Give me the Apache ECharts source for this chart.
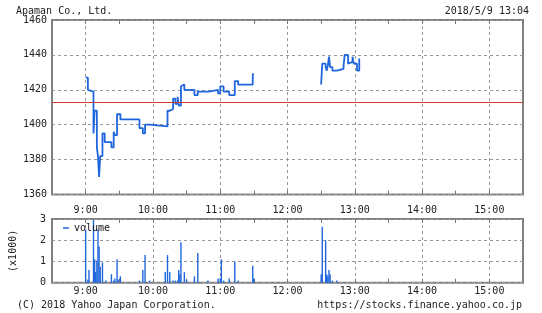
<!DOCTYPE html>
<html><head><meta charset="utf-8">
<script src="https://cdn.jsdelivr.net/npm/echarts@6/dist/echarts.min.js"></script>
<style>html,body{margin:0;padding:0;background:#fff}#c{width:542px;height:313px}</style>
</head><body><div id="c"></div>
<script>
// ---- data ----
const titleText = 'Apaman Co., Ltd.';
const dateText = '2018/5/9 13:04';
const prevClose = 1413;
const amTimes = ['9:00','9:02','9:03','9:07','9:08','9:10','9:11','9:12','9:13','9:15','9:17','9:23','9:25','9:26','9:28','9:31','9:48','9:51','9:53','9:57','10:13','10:15','10:18','10:20','10:22','10:23','10:25','10:26','10:28','10:37','10:40','10:50','10:58','11:00','11:03','11:08','11:13','11:16','11:29','11:30'];
const amPrices = [1427,1420,1419,1395,1408,1387,1382,1370,1382,1395,1390,1387,1396,1394,1406,1403,1398,1395,1400,1399,1408,1409,1415,1412,1416,1411,1422,1423,1420,1417,1419,1420,1418,1422,1419,1417,1425,1423,1429,1429];
const pmTimes = ['12:30','12:31','12:34','12:35','12:36','12:37','12:38','12:40','12:44','12:50','12:51','12:54','12:55','12:58','12:59','13:02','13:04'];
const pmPrices = [1423,1435,1433,1431,1434,1439,1433,1431,1432,1434,1440,1435,1436,1439,1435,1431,1438];
const volTimes = ['9:00','9:02','9:03','9:07','9:08','9:09','9:10','9:11','9:12','9:13','9:15','9:18','9:23','9:25','9:26','9:28','9:29','9:31','9:48','9:51','9:53','9:57','10:11','10:13','10:15','10:18','10:20','10:22','10:23','10:24','10:25','10:28','10:30','10:37','10:40','10:49','10:58','11:00','11:01','11:03','11:08','11:13','11:16','11:29','11:30','12:30','12:31','12:34','12:35','12:36','12:37','12:38','12:40','12:44'];
const volValues = [2500,150,600,2950,1100,500,1050,2500,1700,750,950,100,400,100,200,1100,150,300,100,600,1300,100,500,1300,500,100,100,100,600,400,1900,500,150,300,1400,100,200,200,1100,100,200,1000,100,800,200,400,2630,2000,400,300,600,400,100,100];
const hourLabels = ['9:00','10:00','11:00','12:00','13:00','14:00','15:00'];

// ---- helpers ----
const toMin = t => { const [h, m] = t.split(':').map(Number); return h * 60 + m - 540; };
const pairs = (ts, vs) => ts.map((t, i) => [toMin(t), vs[i]]);
const FONT = 'DejaVu Sans Mono';
const fmtX = v => { const lab = Math.floor((v + 540) / 60) + ':00'; return (v % 60 === 0 && hourLabels.includes(lab)) ? lab : ''; };
const BLUE = '#1f66dd';
const GRIDC = '#999';

const xBase = (gi, margin) => ({
  type: 'value', gridIndex: gi, min: -30, max: 390, interval: 30,
  axisLine: { show: false },
  axisTick: { show: true, inside: true, length: 4, lineStyle: { color: '#777' } },
  axisLabel: { margin: margin, formatter: fmtX, fontFamily: FONT, fontSize: 10, color: '#222', showMinLabel: false, showMaxLabel: false },
  splitLine: { show: true, lineStyle: { color: ['rgba(0,0,0,0)', GRIDC], type: [3, 3], width: 1 } }
});
const xTop = gi => ({
  type: 'value', gridIndex: gi, position: 'top', min: -30, max: 390, interval: 30,
  axisLine: { show: false }, axisLabel: { show: false }, splitLine: { show: false },
  axisTick: { show: true, inside: true, length: 4, lineStyle: { color: '#777' } }
});

const chart = echarts.init(document.getElementById('c'), null, { renderer: 'canvas' });
chart.setOption({
  animation: false,
  backgroundColor: '#fff',
  grid: [
    { left: 52, right: 19, top: 20, height: 174.5, show: true, borderColor: '#808080', borderWidth: 2, backgroundColor: 'transparent' },
    { left: 52, right: 19, top: 219, height: 63.7, show: true, borderColor: '#808080', borderWidth: 2, backgroundColor: 'transparent' }
  ],
  xAxis: [xBase(0, 11), xTop(0), xBase(1, 4), xTop(1)],
  yAxis: [
    { type: 'value', gridIndex: 0, min: 1360, max: 1460, interval: 20,
      axisLine: { show: false }, axisTick: { show: false },
      axisLabel: { margin: 5, fontFamily: FONT, fontSize: 10, color: '#222', formatter: v => String(v) },
      splitLine: { show: true, lineStyle: { color: GRIDC, type: [3, 3], width: 1 } } },
    { type: 'value', gridIndex: 1, min: 0, max: 3000, interval: 1000,
      name: '(x1000)', nameLocation: 'middle', nameGap: 34, nameRotate: 90,
      nameTextStyle: { fontFamily: FONT, fontSize: 10, color: '#222' },
      axisLine: { show: false }, axisTick: { show: false },
      axisLabel: { margin: 6, fontFamily: FONT, fontSize: 10, color: '#222', formatter: v => String(v / 1000) },
      splitLine: { show: true, lineStyle: { color: GRIDC, type: [3, 3], width: 1 } } }
  ],
  legend: {
    data: [{ name: 'volume', icon: 'rect' }], left: 63, top: 223, padding: 0,
    itemWidth: 6, itemHeight: 1.5, itemGap: 5,
    textStyle: { fontFamily: FONT, fontSize: 10, color: '#111' }
  },
  series: [
    { type: 'line', name: 'am', xAxisIndex: 0, yAxisIndex: 0, step: 'end', showSymbol: false,
      data: pairs(amTimes, amPrices), lineStyle: { color: BLUE, width: 1.8 }, itemStyle: { color: BLUE },
      markLine: { silent: true, symbol: 'none', label: { show: false },
        lineStyle: { color: '#cc3b2e', width: 1.2, type: 'solid' }, data: [{ yAxis: prevClose }] },
      z: 3 },
    { type: 'line', name: 'pm', xAxisIndex: 0, yAxisIndex: 0, step: 'end', showSymbol: false,
      data: pairs(pmTimes, pmPrices), lineStyle: { color: BLUE, width: 1.8 }, itemStyle: { color: BLUE }, z: 3 },
    { type: 'bar', name: 'volume', xAxisIndex: 2, yAxisIndex: 1, barWidth: 1.4,
      data: pairs(volTimes, volValues), itemStyle: { color: BLUE } }
  ],
  graphic: [
    { type: 'text', left: 16, top: 6, style: { text: titleText, font: '10px "DejaVu Sans Mono"', fill: '#222' } },
    { type: 'text', right: 13, top: 6, style: { text: dateText, font: '10px "DejaVu Sans Mono"', fill: '#222' } },
    { type: 'text', left: 17, top: 300, style: { text: '(C) 2018 Yahoo Japan Corporation.', font: '10px "DejaVu Sans Mono"', fill: '#222' } },
    { type: 'text', right: 20, top: 300, style: { text: 'https://stocks.finance.yahoo.co.jp', font: '10px "DejaVu Sans Mono"', fill: '#222' } }
  ]
});
</script></body></html>
